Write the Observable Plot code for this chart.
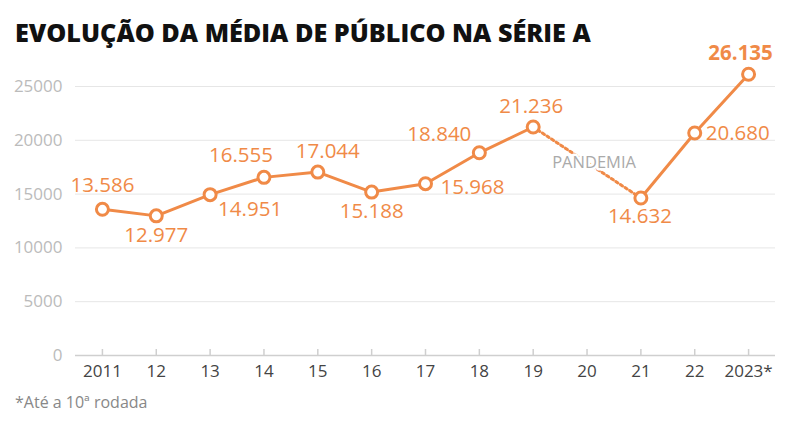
<!DOCTYPE html>
<html>
<head>
<meta charset="utf-8">
<script src="https://cdn.jsdelivr.net/npm/d3@7"></script>
<script src="https://cdn.jsdelivr.net/npm/@observablehq/plot@0.6"></script>
<style>
  html, body { margin: 0; padding: 0; background: #fff; }
  #wrap { position: relative; width: 788px; height: 425px; font-family: "Open Sans", sans-serif; }
  #title { position: absolute; left: 15px; top: 20px; font-size: 25.2px; line-height: 1; font-weight: 800; color: #111; white-space: nowrap; }
  #chart { position: absolute; left: 0; top: 60px; }
  #caption { position: absolute; left: 15px; top: 394px; font-size: 16px; line-height: 1; color: #888; }
</style>
</head>
<body>
<div id="wrap">
  <div id="title">EVOLUÇÃO DA MÉDIA DE PÚBLICO NA SÉRIE A</div>
  <div id="chart"></div>
  <div id="caption">*Até a 10ª rodada</div>
</div>
<script>
// ---- data ----
const years = ["2011", "12", "13", "14", "15", "16", "17", "18", "19", "20", "21", "22", "2023*"];
const attendance = [13586, 12977, 14951, 16555, 17044, 15188, 15968, 18840, 21236, null, 14632, 20680, 26135];
const yTicks = [0, 5000, 10000, 15000, 20000, 25000];
const gapFrom = "19";
const gapTo = "21";
const gapLabel = "PANDEMIA";
const highlightYear = "2023*";

// ---- label placement (layout, not data) ----
const placement = {
  "2011":  {dx: 0,   dy: -24, anchor: "middle"},
  "12":    {dx: 0,   dy: 20,  anchor: "middle"},
  "13":    {dx: 8,   dy: 15,  anchor: "start"},
  "14":    {dx: 9,   dy: -22, anchor: "end"},
  "15":    {dx: 10,  dy: -21, anchor: "middle"},
  "16":    {dx: 0,   dy: 19,  anchor: "middle"},
  "17":    {dx: 15,  dy: 4,   anchor: "start"},
  "18":    {dx: -8,  dy: -18, anchor: "end"},
  "19":    {dx: -2,  dy: -21, anchor: "middle"},
  "21":    {dx: -1,  dy: 18,  anchor: "middle"},
  "22":    {dx: 11,  dy: 0,   anchor: "start"},
  "2023*": {dx: -8,  dy: -21, anchor: "middle"}
};

const orange = "#f08a47";
const ptBR = d3.formatLocale({decimal: ",", thousands: ".", grouping: [3], currency: ["R$", ""]});
const fmt = ptBR.format(",d");

const rows = years.map((y, i) => ({year: y, value: attendance[i], idx: i}));
const valid = rows.filter(d => d.value != null);
const gi0 = years.indexOf(gapFrom), gi1 = years.indexOf(gapTo);
const seg1 = valid.filter(d => d.idx <= gi0);
const seg2 = valid.filter(d => d.idx >= gi1);
const segGap = valid.filter(d => d.idx === gi0 || d.idx === gi1);
const gapMid = [{year: years[Math.round((gi0 + gi1) / 2)], value: (attendance[gi0] + attendance[gi1]) / 2}];

const labelMarks = valid.map(d => {
  const p = placement[d.year];
  return Plot.text([d], {
    x: "year", y: "value", text: r => fmt(r.value),
    dx: p.dx, dy: p.dy, textAnchor: p.anchor,
    fill: orange, fontSize: 20.5,
    fontWeight: d.year === highlightYear ? 700 : 400
  });
});

const chart = Plot.plot({
  width: 788,
  height: 330,
  marginLeft: 75,
  marginRight: 13,
  marginTop: 26,
  marginBottom: 35,
  style: {fontFamily: "Open Sans, sans-serif", background: "transparent", overflow: "visible"},
  x: {type: "point", domain: years, padding: 0.5, round: false, label: null},
  y: {domain: [0, 25000], label: null, ticks: yTicks},
  marks: [
    Plot.gridY(yTicks.filter(t => t > 0), {stroke: "#e6e6e6", strokeOpacity: 1}),
    Plot.axisY({ticks: yTicks, tickSize: 0, tickPadding: 13, fontSize: 17, fill: "#bbb", tickFormat: d => String(d), label: null}),
    Plot.ruleY([0], {stroke: "#cfcfcf", strokeWidth: 1.5}),
    Plot.axisX({tickSize: -6, text: null, stroke: "#cfcfcf", strokeWidth: 1.5, label: null}),
    Plot.axisX({tickSize: 0, tickPadding: 9, fontSize: 17, fill: "#444", label: null}),
    Plot.line(segGap, {x: "year", y: "value", stroke: orange, strokeWidth: 3, strokeDasharray: "2.5,3"}),
    Plot.text(gapMid, {x: "year", y: "value", text: () => gapLabel, dx: 7, fill: "#aaa", fontSize: 16.5, stroke: "white", strokeWidth: 5}),
    Plot.line(seg1, {x: "year", y: "value", stroke: orange, strokeWidth: 3}),
    Plot.line(seg2, {x: "year", y: "value", stroke: orange, strokeWidth: 3}),
    Plot.dot(valid, {x: "year", y: "value", r: 6, fill: "white", stroke: orange, strokeWidth: 3}),
    ...labelMarks
  ]
});
document.getElementById("chart").appendChild(chart);
</script>
</body>
</html>
